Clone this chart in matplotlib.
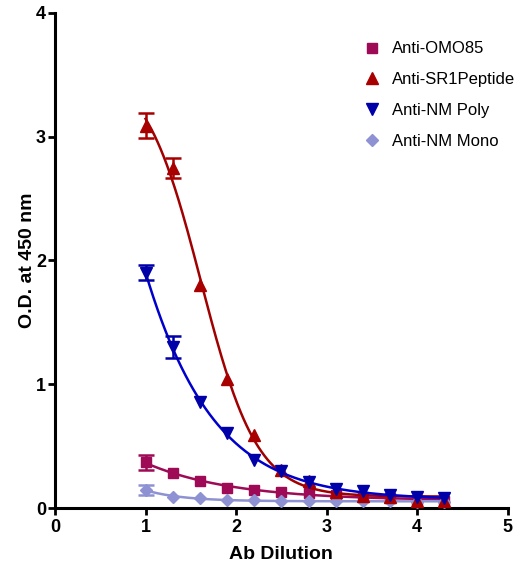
import numpy as np
import matplotlib
matplotlib.use("Agg")
import matplotlib.pyplot as plt
from matplotlib.lines import Line2D

plt.rcParams['font.family'] = ['Liberation Sans', 'DejaVu Sans']

# Data
dilution = [1.0, 1.3, 1.6, 1.9, 2.2, 2.5, 2.8, 3.1, 3.4, 3.7, 4.0, 4.3]
omo85 = [0.37, 0.28, 0.218, 0.165, 0.143, 0.133, 0.125, 0.105, 0.088, 0.078, 0.065, 0.058]
omo85_err = [0.06, 0, 0, 0, 0, 0, 0, 0, 0, 0, 0, 0]
sr1 = [3.09, 2.75, 1.80, 1.04, 0.59, 0.31, 0.22, 0.13, 0.10, 0.085, 0.06, 0.055]
sr1_err = [0.10, 0.08, 0, 0, 0, 0, 0, 0, 0, 0, 0, 0]
nm_poly = [1.90, 1.30, 0.855, 0.605, 0.39, 0.30, 0.21, 0.15, 0.14, 0.105, 0.088, 0.078]
nm_poly_err = [0.06, 0.09, 0, 0, 0, 0, 0, 0, 0, 0, 0, 0]
nm_mono = [0.145, 0.092, 0.078, 0.066, 0.062, 0.058, 0.056, 0.055, 0.054, 0.053, 0.052, 0.052]
nm_mono_err = [0.04, 0, 0, 0, 0, 0, 0, 0, 0, 0, 0, 0]
series_names = ["Anti-OMO85", "Anti-SR1Peptide", "Anti-NM Poly", "Anti-NM Mono"]
x_ticks = [0, 1, 2, 3, 4, 5]
y_ticks = [0, 1, 2, 3, 4]


def model(p, x):
    b, t, c, h = p
    e = np.clip((x - c) * h, -30, 30)
    return b + (t - b) / (1 + 10 ** e)


def fit4pl(x, y):
    x = np.asarray(x, float); y = np.asarray(y, float)
    mid = (y.max() + y.min()) / 2
    p = np.array([y.min(), y.max() * 1.1, x[np.argmin(np.abs(y - mid))], 1.0])
    lam = 1e-2
    sse = np.sum((y - model(p, x)) ** 2)
    for _ in range(2000):
        r = y - model(p, x)
        J = np.zeros((len(x), 4))
        for k in range(4):
            dp = np.zeros(4); dp[k] = 1e-6 * max(1.0, abs(p[k]))
            J[:, k] = (model(p + dp, x) - model(p, x)) / dp[k]
        A = J.T @ J; g = J.T @ r
        try:
            step = np.linalg.solve(A + lam * np.diag(np.diag(A) + 1e-12), g)
        except np.linalg.LinAlgError:
            break
        pn = p + step
        sn = np.sum((y - model(pn, x)) ** 2)
        if sn < sse:
            p, sse = pn, sn
            lam = max(lam / 3, 1e-9)
        else:
            lam *= 3
            if lam > 1e9:
                break
    return p


fig = plt.figure(figsize=(5.24, 5.75), dpi=100)
ax = fig.add_axes([0.105, 0.1165, 0.864, 0.861])

styles = [
    (omo85, omo85_err, 's', '#9E0A55', '#9E0A55', 7, 2),
    (nm_mono, nm_mono_err, 'D', '#8E92D2', '#8E92D2', 6, 3),
    (sr1, sr1_err, '^', '#A80000', '#A00000', 8, 4),
    (nm_poly, nm_poly_err, 'v', '#0000A8', '#0000CC', 8, 5),
]
xs = np.linspace(dilution[0], dilution[-1], 300)
xd = np.asarray(dilution)
for vals, err, mk, mcol, lcol, ms, z in styles:
    p = fit4pl(dilution, vals)
    ax.plot(xs, model(p, xs), color=lcol, lw=1.8, zorder=z)
    v = np.asarray(vals); e = np.asarray(err)
    sel = e > 0
    ax.errorbar(xd[sel], v[sel], yerr=e[sel], fmt='none', ecolor=mcol,
                elinewidth=1.8, capsize=6, capthick=1.8, zorder=z)
    ax.plot(xd, v, ls='none', marker=mk, color=mcol, ms=ms, zorder=z)

ax.set_xlim(0, 5)
ax.set_ylim(0, 4)
ax.set_xticks(x_ticks)
ax.set_yticks(y_ticks)
for s in ['top', 'right']:
    ax.spines[s].set_visible(False)
for s in ['left', 'bottom']:
    ax.spines[s].set_linewidth(2.2)
ax.tick_params(direction='out', length=5, width=2, labelsize=13, pad=1.5)
ax.tick_params(axis='x', pad=3)
for lab in ax.get_xticklabels() + ax.get_yticklabels():
    lab.set_fontweight('bold')
ax.set_xlabel('Ab Dilution', fontsize=14, fontweight='bold', labelpad=7)
ax.set_ylabel('O.D. at 450 nm', fontsize=14, fontweight='bold', labelpad=0)

handles = [
    Line2D([], [], ls='none', marker='s', color='#9E0A55', ms=7),
    Line2D([], [], ls='none', marker='^', color='#A80000', ms=8),
    Line2D([], [], ls='none', marker='v', color='#0000A8', ms=8),
    Line2D([], [], ls='none', marker='D', color='#8E92D2', ms=6),
]
ax.legend(handles, series_names, loc='upper left', bbox_to_anchor=(0.655, 0.966),
          frameon=False, prop=dict(family=['Liberation Sans'], size=12),
          handlelength=1.0, handletextpad=0.7, labelspacing=0.95, borderpad=0.2)

fig.savefig('out.png', dpi=100)
